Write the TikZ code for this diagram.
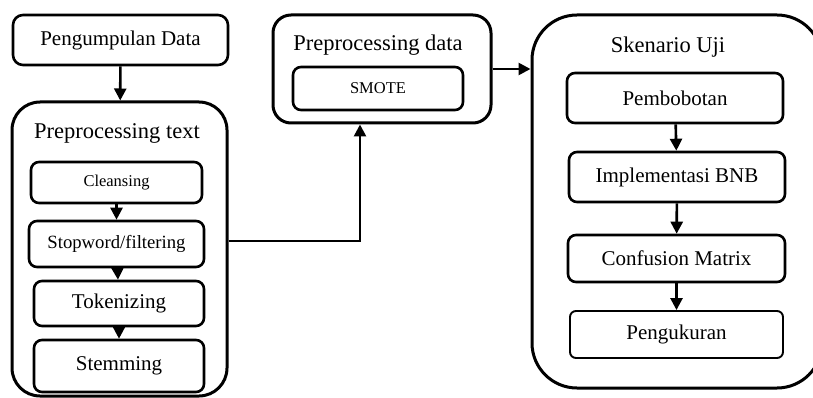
\documentclass[tikz,border=0pt]{standalone}
\usepackage{fontspec}
\setmainfont{Liberation Serif}
\usetikzlibrary{arrows.meta}
\tikzset{
  box/.style={draw, line width=2.6pt, rounded corners=8pt, inner sep=0pt},
  outer/.style={draw, line width=3pt, inner sep=0pt},
  big/.style={font=\fontsize{21}{24}\selectfont},
  arr/.style={line width=2.6pt, -{Triangle[length=12pt,width=12pt]}},
}
\begin{document}
\begin{tikzpicture}[x=1pt,y=-1pt]
\useasboundingbox (0,0) rectangle (813,398);
\clip (0,0) rectangle (813,398);
% left column
\node[box, rounded corners=10pt, minimum width=215pt, minimum height=50pt, big] (pd) at (120.5,40) {Pengumpulan Data};
\node[outer, rounded corners=28pt, minimum width=215pt, minimum height=294pt] (pt) at (119.5,249) {};
\node[big, font=\fontsize{22.5}{24}\selectfont] (ptt) at (117,133) {Preprocessing text};
\node[box, minimum width=171pt, minimum height=41pt, font=\fontsize{16.5}{20}\selectfont] (cl) at (116.5,182.5) {Cleansing};
\node[box, minimum width=175pt, minimum height=46pt, font=\fontsize{18.7}{22}\selectfont] (sw) at (116.5,244) {Stopword/filtering};
\node[box, minimum width=170pt, minimum height=45pt, big] (tk) at (119,303.5) {Tokenizing};
\node[box, minimum width=170pt, minimum height=52pt, big] (st) at (119,366) {Stemming};
\draw[arr] (pd) -- (pt);
\draw[arr] (cl) -- (sw);
\draw[arr] (sw) -- (tk);
\draw[arr] (tk) -- (st);
% middle
\node[outer, rounded corners=18pt, minimum width=218pt, minimum height=108pt] (pda) at (382,69) {};
\node[big, font=\fontsize{22.5}{24}\selectfont] (pdat) at (378,45) {Preprocessing data};
\node[box, minimum width=170pt, minimum height=43pt, font=\fontsize{16.5}{20}\selectfont] (sm) at (378,88.5) {SMOTE};
\draw[arr] ([yshift=8pt]pt.east) -| ([xshift=-22pt]pda.south);
% right
\node[outer, rounded corners=45pt, minimum width=290pt, minimum height=373pt] (su) at (677,201.5) {};
\node[big, font=\fontsize{22.5}{24}\selectfont] (sut) at (668,47) {Skenario Uji};
\node[box, minimum width=216pt, minimum height=50pt, big] (pb) at (675,98) {Pembobotan};
\node[box, minimum width=216pt, minimum height=50pt, big] (im) at (677,177) {Implementasi BNB};
\node[box, minimum width=217pt, minimum height=47pt, big] (cm) at (676.5,258.5) {Confusion Matrix};
\node[box, line width=1.9pt, rounded corners=6pt, minimum width=213pt, minimum height=47pt, big] (pg) at (676.5,334.5) {Pengukuran};
\draw[arr] (pda.east) -- (pda.east -| su.west);
\draw[arr] (pb) -- (im);
\draw[arr] (im) -- (cm);
\draw[arr] (cm) -- (pg);
\end{tikzpicture}
\end{document}
